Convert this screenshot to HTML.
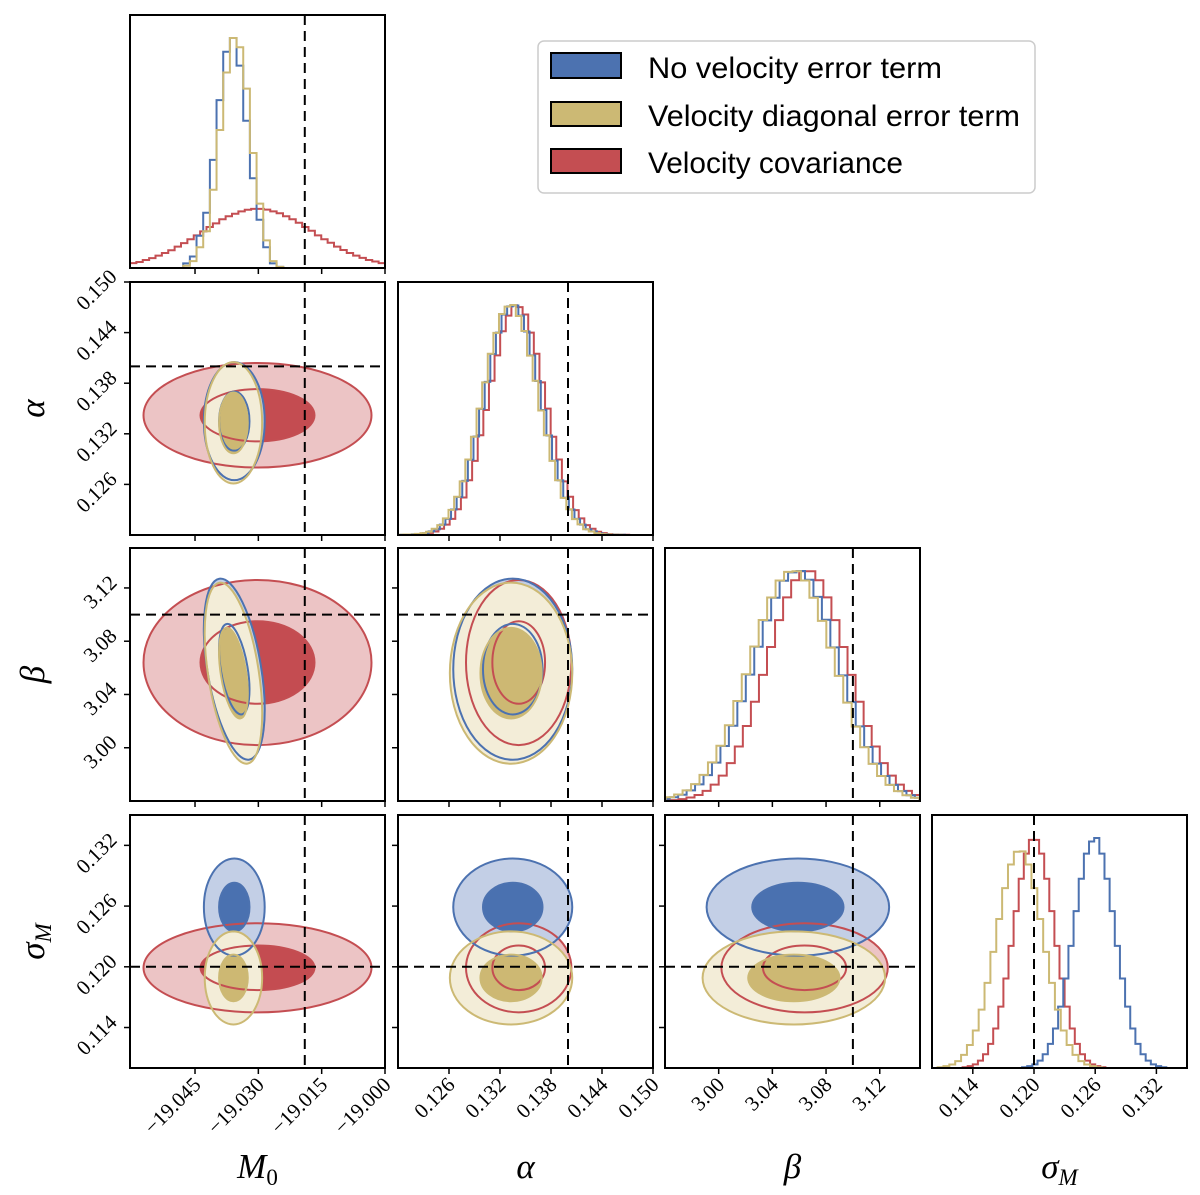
<!DOCTYPE html>
<html><head><meta charset="utf-8"><title>Corner plot</title>
<style>html,body{margin:0;padding:0;background:#fff}svg{display:block}</style></head>
<body>
<svg id="fig" xmlns="http://www.w3.org/2000/svg" width="1200" height="1195" viewBox="0 0 1200 1195">
<rect x="0" y="0" width="1200" height="1195" fill="#fff"/>
<g id="plots"></g>
<g id="legend">
  <rect x="538" y="41" width="497" height="152" rx="6" fill="#fff" stroke="#cccccc" stroke-width="1.5"/>
  <rect x="551" y="53" width="70" height="25" fill="#4c72b0" stroke="#000" stroke-width="2"/>
  <text x="648" y="78" font-family="Liberation Sans, sans-serif" font-size="30" textLength="294" lengthAdjust="spacingAndGlyphs">No velocity error term</text>
  <rect x="551" y="102" width="70" height="24" fill="#ccb974" stroke="#000" stroke-width="2"/>
  <text x="648" y="126" font-family="Liberation Sans, sans-serif" font-size="30" textLength="372" lengthAdjust="spacingAndGlyphs">Velocity diagonal error term</text>
  <rect x="551" y="149" width="70" height="24" fill="#c44e52" stroke="#000" stroke-width="2"/>
  <text x="648" y="173" font-family="Liberation Sans, sans-serif" font-size="30" textLength="255" lengthAdjust="spacingAndGlyphs">Velocity covariance</text>
</g>
</svg>
<script>
// ---- data ----
const paramNames = ["M0", "alpha", "beta", "sigmaM"];
const paramRanges = [[-19.0604, -19.0], [0.12, 0.15], [2.96, 3.15], [0.11, 0.135]];
const truthValues = [-19.019, 0.14, 3.10, 0.12];
const tickM0 = [-19.045, -19.030, -19.015, -19.000];
const tickAlpha = [0.126, 0.132, 0.138, 0.144, 0.150];
const tickBeta = [3.00, 3.04, 3.08, 3.12];
const tickSigma = [0.114, 0.120, 0.126, 0.132];
const tickLabM0 = ["\u221219.045", "\u221219.030", "\u221219.015", "\u221219.000"];
const tickLabAlpha = ["0.126", "0.132", "0.138", "0.144", "0.150"];
const tickLabBeta = ["3.00", "3.04", "3.08", "3.12"];
const tickLabSigma = ["0.114", "0.120", "0.126", "0.132"];

const seriesNames = ["covariance", "no-velocity", "diagonal"];
const redMean = [-19.0302, 0.1342, 3.064, 0.1199];
const redSd = [0.0135, 0.0031, 0.031, 0.0022];
const blueMean = [-19.0357, 0.1335, 3.059, 0.1259];
const blueSd = [0.0036, 0.0035, 0.034, 0.0024];
const goldMean = [-19.0359, 0.1333, 3.056, 0.1189];
const goldSd = [0.0034, 0.0036, 0.034, 0.0023];
const redRho = [0, 0, 0, 0, 0, 0];
const blueRho = [0, -0.45, 0, 0, 0, 0];
const goldRho = [0, -0.45, 0, 0, 0, 0];

const redM0Range = [-19.0604, -19.0];
const redM0Counts = [.021,.026,.035,.043,.054,.065,.077,.093,.108,.125,.142,.159,.178,.194,.212,.225,.236,.246,.253,.257,.257,.254,.246,.238,.225,.212,.197,.178,.162,.142,.125,.110,.093,.078,.065,.054,.044,.035,.028,.021];
const blueM0Range = [-19.0478, -19.0241];
const blueM0Counts = [.02,.05,.14,.24,.47,.73,.94,1.0,.88,.64,.39,.21,.09,.02,.005];
const goldM0Range = [-19.0478, -19.0241];
const goldM0Counts = [.01,.03,.09,.16,.34,.60,.85,1.0,.96,.78,.50,.28,.12,.03,.005];

const redAlphaRange = [0.1208, 0.1472];
const redAlphaCounts = [.001,.001,.002,.004,.009,.015,.027,.045,.07,.112,.163,.238,.322,.433,.543,.67,.78,.885,.953,.998,.99,.958,.879,.787,.663,.549,.427,.328,.233,.166,.108,.072,.043,.027,.014,.008,.004,.002,.001,.001];
const blueAlphaRange = [0.1203, 0.1467];
const blueAlphaCounts = [.001,.001,.003,.004,.008,.016,.025,.045,.07,.111,.165,.235,.327,.428,.548,.665,.786,.879,.958,.993,.997,.953,.884,.78,.669,.543,.432,.323,.237,.162,.111,.07,.045,.025,.016,.007,.004,.002,.001,.001];
const goldAlphaRange = [0.1200, 0.1464];
const goldAlphaCounts = [.001,.002,.002,.005,.008,.014,.027,.043,.072,.109,.166,.233,.328,.427,.549,.663,.787,.878,.96,.992,.999,.951,.886,.779,.67,.541,.433,.322,.238,.161,.112,.069,.046,.025,.015,.008,.004,.002,.001,.001];

const redBetaRange = [2.946, 3.186];
const redBetaCounts = [.001,.001,.002,.004,.008,.015,.026,.044,.071,.11,.164,.236,.325,.43,.546,.667,.783,.882,.956,.995,.995,.956,.882,.783,.667,.546,.43,.325,.236,.164,.11,.071,.044,.026,.015,.008,.004,.002,.001,.001];
const blueBetaRange = [2.932, 3.184];
const blueBetaCounts = [.001,.002,.003,.005,.009,.016,.027,.046,.072,.112,.166,.238,.326,.432,.547,.668,.782,.88,.954,.99,.996,.958,.884,.785,.665,.544,.428,.323,.234,.162,.108,.07,.043,.025,.014,.007,.004,.002,.001,.001];
const goldBetaRange = [2.929, 3.181];
const goldBetaCounts = [.001,.002,.003,.005,.009,.016,.028,.046,.073,.113,.167,.239,.328,.433,.549,.669,.784,.881,.955,.992,.995,.955,.88,.78,.664,.542,.426,.322,.233,.161,.108,.07,.043,.025,.014,.008,.004,.002,.001,.001];

const redSigmaRange = [0.1130, 0.1270];
const redSigmaCounts = [.003,.008,.016,.032,.06,.105,.172,.267,.389,.531,.682,.823,.932,.992,.992,.932,.823,.682,.531,.389,.267,.172,.105,.06,.032,.016,.008,.003];
const blueSigmaRange = [0.11883, 0.13297];
const blueSigmaCounts = [.003,.008,.016,.032,.06,.105,.172,.267,.389,.531,.682,.823,.932,.985,1.0,.932,.823,.682,.531,.389,.267,.172,.105,.06,.032,.016,.008,.003];
const goldSigmaRange = [0.11055, 0.12665];
const goldSigmaCounts = [.003,.008,.015,.03,.057,.1,.163,.254,.37,.505,.648,.782,.885,.94,.942,.885,.782,.648,.505,.37,.254,.163,.1,.057,.03,.015,.008,.003];

// ---- layout / style ----
const NS = "http://www.w3.org/2000/svg";
const colX = [130, 398, 665, 932], rowY = [15, 282, 548, 815], PW = 255, PH = 253;
const lineCol = {"covariance": "#c44e52", "no-velocity": "#4c72b0", "diagonal": "#ccb974"};
const lightCol = {"covariance": "#ecc4c5", "no-velocity": "#c3cfe6", "diagonal": "#f3edd8"};
const darkCol = {"covariance": "#c44c51", "no-velocity": "#4a71b0", "diagonal": "#cdb873"};
const means = [redMean, blueMean, goldMean], sds = [redSd, blueSd, goldSd], rhos = [redRho, blueRho, goldRho];
const histData = [
  [[redM0Range, redM0Counts], [blueM0Range, blueM0Counts], [goldM0Range, goldM0Counts]],
  [[redAlphaRange, redAlphaCounts], [blueAlphaRange, blueAlphaCounts], [goldAlphaRange, goldAlphaCounts]],
  [[redBetaRange, redBetaCounts], [blueBetaRange, blueBetaCounts], [goldBetaRange, goldBetaCounts]],
  [[redSigmaRange, redSigmaCounts], [blueSigmaRange, blueSigmaCounts], [goldSigmaRange, goldSigmaCounts]]
];
const ticks = [tickM0, tickAlpha, tickBeta, tickSigma];
const tickLabs = [tickLabM0, tickLabAlpha, tickLabBeta, tickLabSigma];
const axisLabels = [["M", "0"], ["\u03b1", ""], ["\u03b2", ""], ["\u03c3", "M"]];

function xS(p, v) { const r = paramRanges[p]; return colX[p] + (v - r[0]) / (r[1] - r[0]) * PW; }
function yS(p, row, v) { const r = paramRanges[p]; return rowY[row] + PH - (v - r[0]) / (r[1] - r[0]) * PH; }
function pairIdx(i, j) { const m = {"01":0,"02":1,"03":2,"12":3,"13":4,"23":5}; return m["" + i + j]; }
function mk(tag, attrs, parent) { const e = document.createElementNS(NS, tag); for (const k in attrs) e.setAttribute(k, attrs[k]); parent.appendChild(e); return e; }

const root = document.getElementById("plots");
const defs = mk("defs", {}, root);

for (let row = 0; row < 4; row++) {
  for (let col = 0; col <= row; col++) {
    const g = mk("g", {}, root);
    
    
    const cid = "clip" + row + col;
    const cp = mk("clipPath", {id: cid}, defs);
    mk("rect", {x: colX[col], y: rowY[row], width: PW, height: PH}, cp);
    const inner = mk("g", {"clip-path": "url(#" + cid + ")"}, g);
    if (row === col) {
      const hs = histData[col];
      let mx = 0; hs.forEach(h => h[1].forEach(c => mx = Math.max(mx, c)));
      const ymax = 1.1 * mx;
      const base = rowY[row] + PH;
      hs.forEach((h, s) => {
        const lo = h[0][0], hi = h[0][1], cnt = h[1], n = cnt.length;
        let d = "M" + xS(col, lo) + "," + base;
        for (let k = 0; k < n; k++) {
          const x0 = xS(col, lo + (hi - lo) * k / n), x1 = xS(col, lo + (hi - lo) * (k + 1) / n);
          const y = base - cnt[k] / ymax * PH;
          d += " L" + x0 + "," + y + " L" + x1 + "," + y;
        }
        d += " L" + xS(col, hi) + "," + base;
        const p = mk("path", {d: d, fill: "none", stroke: lineCol[seriesNames[s]], "stroke-width": 2}, inner);
        
        
      });
    } else {
      const ells = [];
      for (let s = 0; s < 3; s++) {
        const cx = xS(col, means[s][col]), cy = yS(row, row, means[s][row]);
        const rx = paramRanges[col], ry = paramRanges[row];
        const sx = sds[s][col] / (rx[1] - rx[0]) * PW, sy = sds[s][row] / (ry[1] - ry[0]) * PH;
        const rho = rhos[s][pairIdx(col, row)];
        const a = sx * sx, b = sy * sy, c = -rho * sx * sy;
        const th = 0.5 * Math.atan2(2 * c, a - b);
        const m = (a + b) / 2, q = Math.sqrt(((a - b) / 2) ** 2 + c * c);
        ells.push({cx, cy, r1: Math.sqrt(m + q), r2: Math.sqrt(Math.max(m - q, 1e-6)), deg: th * 180 / Math.PI});
      }
      const draw = (s, k, fill, stroke, nm) => {
        const e = ells[s];
        const el = mk("ellipse", {cx: e.cx, cy: e.cy, rx: k * e.r1, ry: k * e.r2, transform: "rotate(" + e.deg + " " + e.cx + " " + e.cy + ")", fill: fill, stroke: stroke, "stroke-width": stroke === "none" ? 0 : 2}, inner);
        
        
      };
      for (let s = 0; s < 3; s++) {
        draw(s, 2, lightCol[seriesNames[s]], "none", 'contour-2sigma-fill-' + seriesNames[s]);
        draw(s, 1, darkCol[seriesNames[s]], "none", 'contour-1sigma-fill-' + seriesNames[s]);
      }
      for (let s = 0; s < 3; s++) {
        draw(s, 2, "none", lineCol[seriesNames[s]], 'contour-2sigma-line-' + seriesNames[s]);
        draw(s, 1, "none", lineCol[seriesNames[s]], 'contour-1sigma-line-' + seriesNames[s]);
      }
      const hl = mk("line", {x1: colX[col], x2: colX[col] + PW, y1: yS(row, row, truthValues[row]), y2: yS(row, row, truthValues[row]), stroke: "#000", "stroke-width": 2, "stroke-dasharray": "10,6"}, inner);
      
      
    }
    const vl = mk("line", {x1: xS(col, truthValues[col]), x2: xS(col, truthValues[col]), y1: rowY[row], y2: rowY[row] + PH, stroke: "#000", "stroke-width": 2, "stroke-dasharray": "10,6"}, inner);
    
    
    const fr = mk("rect", {x: colX[col], y: rowY[row], width: PW, height: PH, fill: "none", stroke: "#000", "stroke-width": 2}, g);
    
    
    ticks[col].forEach((t, k) => {
      const x = xS(col, t), yb = rowY[row] + PH;
      const tl = mk("line", {x1: x, x2: x, y1: yb, y2: yb + 6, stroke: "#000", "stroke-width": 1.5}, g);
      
      
      if (row === 3) {
        const tx = mk("text", {x: 0, y: 0, transform: "translate(" + (x + 7) + "," + (yb + 18) + ") rotate(-45)", "text-anchor": "end", "font-family": "Liberation Serif, serif", "font-size": 21}, g);
        tx.textContent = tickLabs[col][k];
        
        
      }
    });
    if (row !== col) {
      ticks[row].forEach((t, k) => {
        const y = yS(row, row, t), xl = colX[col];
        const tl = mk("line", {x1: xl - 6, x2: xl, y1: y, y2: y, stroke: "#000", "stroke-width": 1.5}, g);
        
        
        if (col === 0) {
          const tx = mk("text", {x: 0, y: 0, transform: "translate(" + (xl - 12) + "," + (y - 4) + ") rotate(-45)", "text-anchor": "end", "font-family": "Liberation Serif, serif", "font-size": 21}, g);
          tx.textContent = tickLabs[row][k];
          
          
        }
      });
    }
  }
}
function axisLabel(p, x, y, rot, nm) {
  const t = mk("text", {x: 0, y: 0, transform: "translate(" + x + "," + y + ")" + (rot ? " rotate(-90)" : ""), "text-anchor": "middle", "font-family": "Liberation Serif, serif", "font-size": 35, "font-style": "italic"}, root);
  t.appendChild(document.createTextNode(axisLabels[p][0]));
  if (axisLabels[p][1]) {
    const ts = mk("tspan", {"font-size": 23, dy: 7, "font-style": p === 0 ? "normal" : "italic"}, t);
    ts.textContent = axisLabels[p][1];
  }
  
  
}
for (let p = 0; p < 4; p++) axisLabel(p, colX[p] + PW / 2, 1178, false, 'x-axis-title-' + paramNames[p]);
for (let p = 1; p < 4; p++) axisLabel(p, 44, rowY[p] + PH / 2, true, 'y-axis-title-' + paramNames[p]);
</script>
</body></html>
